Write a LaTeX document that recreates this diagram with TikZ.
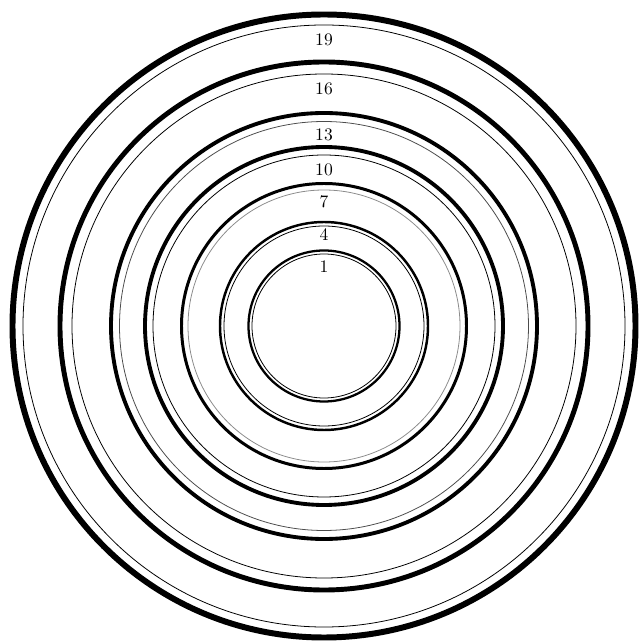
\documentclass[tikz,border=0pt]{standalone}
\usepackage{tikz}

\begin{document}
\begin{tikzpicture}[scale=0.02,
  rim/.style={draw,black},
  hair/.style={draw,black,line width=0.45pt},
  num/.style={font=\normalsize,inner sep=0pt}]

  \useasboundingbox (-324,-317) rectangle (316,326);

  % heavy rims
  \draw[rim,line width=3.4pt] (0,0) circle (311.5);
  \draw[rim,line width=2.8pt] (0,0) circle (264);
  \draw[rim,line width=2.2pt] (0,0) circle (213);
  \draw[rim,line width=2.2pt] (0,0) circle (179);
  \draw[rim,line width=1.7pt] (0,0) circle (142.5);
  \draw[rim,line width=1.4pt] (0,0) circle (104);
  \draw[rim,line width=1.3pt] (0,0) circle (75.5);

  % fine inner lines
  \draw[hair] (0,0) circle (301);
  \draw[hair] (0,0) circle (252);
  \draw[hair,black!70] (0,0) circle (204.5);
  \draw[hair] (0,0) circle (171);
  \draw[hair,black!45] (0,0) circle (136);
  \draw[hair] (0,0) circle (100);
  \draw[hair] (0,0) circle (72);

  \node[num] (n19) at (0,286) {19};
  \node[num] (n16) at (0,237) {16};
  \node[num] (n13) at (0,191) {13};
  \node[num] (n10) at (0,156) {10};
  \node[num] (n7)  at (0,124) {7};
  \node[num] (n4)  at (0,91)  {4};
  \node[num] (n1)  at (0,59)  {1};

\end{tikzpicture}
\end{document}
